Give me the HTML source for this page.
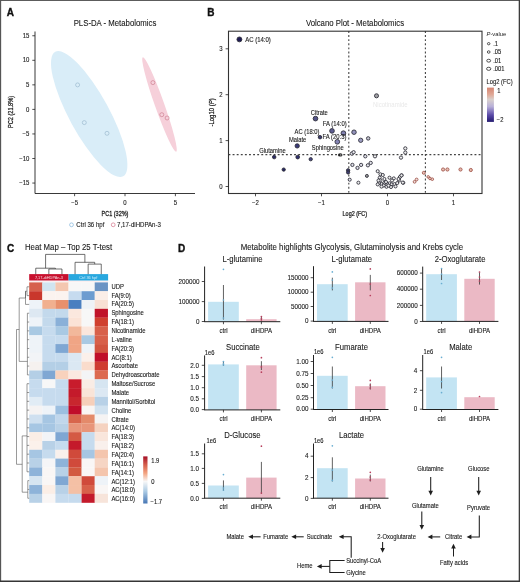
<!DOCTYPE html>
<html><head><meta charset="utf-8"><style>
html,body{margin:0;padding:0;background:#fff;}
svg{display:block;will-change:transform;font-family:"Liberation Sans",sans-serif;}
</style></head><body>
<svg width="520" height="582" viewBox="0 0 520 582">
<rect x="0" y="0" width="520" height="582" fill="#fff"/>
<g id="A">
<text x="6.70" y="15.60" font-size="10" text-anchor="start" fill="#111" stroke="#111" stroke-width="0.35" font-weight="bold">A</text>
<text transform="translate(115.00 25.63) scale(0.8929 1)" font-size="8.74" text-anchor="middle" fill="#1a1a1a" stroke="#1a1a1a" stroke-width="0.1" >PLS-DA - Metabolomics</text>
<ellipse cx="89.2" cy="114.1" rx="70.9" ry="20.0" transform="rotate(61.4 89.2 114.1)" fill="#d9edf8"/>
<ellipse cx="159.5" cy="104.5" rx="50" ry="4.7" transform="rotate(70.5 159.5 104.5)" fill="#f6d0da"/>
<circle cx="77.60" cy="84.90" r="2.00" fill="none" stroke="#98b6cc" stroke-width="0.65"/>
<circle cx="84.30" cy="122.60" r="2.00" fill="none" stroke="#98b6cc" stroke-width="0.65"/>
<circle cx="107.00" cy="133.30" r="2.00" fill="none" stroke="#98b6cc" stroke-width="0.65"/>
<circle cx="152.90" cy="82.60" r="2.00" fill="none" stroke="#cc7a8c" stroke-width="0.65"/>
<circle cx="161.80" cy="114.70" r="2.00" fill="none" stroke="#cc7a8c" stroke-width="0.65"/>
<circle cx="167.10" cy="118.00" r="2.00" fill="none" stroke="#cc7a8c" stroke-width="0.65"/>
<line x1="35.00" y1="31.50" x2="35.00" y2="193.50" stroke="#222" stroke-width="0.9" />
<line x1="35.00" y1="193.50" x2="195.00" y2="193.50" stroke="#222" stroke-width="0.9" />
<line x1="32.30" y1="35.75" x2="35.00" y2="35.75" stroke="#222" stroke-width="0.8" />
<text transform="translate(29.40 37.85) scale(0.8929 1)" font-size="6.72" text-anchor="end" fill="#1a1a1a" stroke="#1a1a1a" stroke-width="0.11" >15</text>
<line x1="32.30" y1="60.30" x2="35.00" y2="60.30" stroke="#222" stroke-width="0.8" />
<text transform="translate(29.40 62.40) scale(0.8929 1)" font-size="6.72" text-anchor="end" fill="#1a1a1a" stroke="#1a1a1a" stroke-width="0.11" >10</text>
<line x1="32.30" y1="84.85" x2="35.00" y2="84.85" stroke="#222" stroke-width="0.8" />
<text transform="translate(29.40 86.95) scale(0.8929 1)" font-size="6.72" text-anchor="end" fill="#1a1a1a" stroke="#1a1a1a" stroke-width="0.11" >5</text>
<line x1="32.30" y1="109.40" x2="35.00" y2="109.40" stroke="#222" stroke-width="0.8" />
<text transform="translate(29.40 111.50) scale(0.8929 1)" font-size="6.72" text-anchor="end" fill="#1a1a1a" stroke="#1a1a1a" stroke-width="0.11" >0</text>
<line x1="32.30" y1="133.95" x2="35.00" y2="133.95" stroke="#222" stroke-width="0.8" />
<text transform="translate(29.40 136.05) scale(0.8929 1)" font-size="6.72" text-anchor="end" fill="#1a1a1a" stroke="#1a1a1a" stroke-width="0.11" >−5</text>
<line x1="32.30" y1="158.50" x2="35.00" y2="158.50" stroke="#222" stroke-width="0.8" />
<text transform="translate(29.40 160.60) scale(0.8929 1)" font-size="6.72" text-anchor="end" fill="#1a1a1a" stroke="#1a1a1a" stroke-width="0.11" >−10</text>
<line x1="32.30" y1="183.05" x2="35.00" y2="183.05" stroke="#222" stroke-width="0.8" />
<text transform="translate(29.40 185.15) scale(0.8929 1)" font-size="6.72" text-anchor="end" fill="#1a1a1a" stroke="#1a1a1a" stroke-width="0.11" >−15</text>
<line x1="74.60" y1="193.50" x2="74.60" y2="196.20" stroke="#222" stroke-width="0.8" />
<text transform="translate(74.60 205.10) scale(0.8929 1)" font-size="6.72" text-anchor="middle" fill="#1a1a1a" stroke="#1a1a1a" stroke-width="0.11" >−5</text>
<line x1="125.00" y1="193.50" x2="125.00" y2="196.20" stroke="#222" stroke-width="0.8" />
<text transform="translate(125.00 205.10) scale(0.8929 1)" font-size="6.72" text-anchor="middle" fill="#1a1a1a" stroke="#1a1a1a" stroke-width="0.11" >0</text>
<line x1="175.40" y1="193.50" x2="175.40" y2="196.20" stroke="#222" stroke-width="0.8" />
<text transform="translate(175.40 205.10) scale(0.8929 1)" font-size="6.72" text-anchor="middle" fill="#1a1a1a" stroke="#1a1a1a" stroke-width="0.11" >5</text>
<text transform="translate(115.00 215.80) scale(0.86 1)" font-size="6.4" text-anchor="middle" fill="#1a1a1a" stroke="#1a1a1a" stroke-width="0.25">PC1 (32%)</text>
<text transform="translate(13.00 112.00) rotate(-90) scale(0.8 1)" font-size="7.0" text-anchor="middle" fill="#1a1a1a" stroke="#1a1a1a" stroke-width="0.25">PC2 (21.8%)</text>
<circle cx="71.50" cy="224.80" r="1.90" fill="none" stroke="#78aed8" stroke-width="0.65"/>
<text transform="translate(76.30 226.73) scale(0.8929 1)" font-size="6.83" text-anchor="start" fill="#1a1a1a" stroke="#1a1a1a" stroke-width="0.11" >Ctrl 36 hpf</text>
<circle cx="113.20" cy="224.80" r="1.90" fill="none" stroke="#d06880" stroke-width="0.65"/>
<text transform="translate(117.00 226.73) scale(0.8929 1)" font-size="6.83" text-anchor="start" fill="#1a1a1a" stroke="#1a1a1a" stroke-width="0.11" >7,17-diHDPAn-3</text>
</g>
<g id="B">
<text x="207.20" y="15.60" font-size="10" text-anchor="start" fill="#111" stroke="#111" stroke-width="0.35" font-weight="bold">B</text>
<text transform="translate(355.00 25.63) scale(0.8929 1)" font-size="8.74" text-anchor="middle" fill="#1a1a1a" stroke="#1a1a1a" stroke-width="0.1" >Volcano Plot - Metabolomics</text>
<line x1="228.50" y1="154.60" x2="482.00" y2="154.60" stroke="#444" stroke-width="1.1" stroke-dasharray="1.9 2.2"/>
<line x1="348.80" y1="31.00" x2="348.80" y2="193.50" stroke="#444" stroke-width="1.1" stroke-dasharray="1.9 2.2"/>
<line x1="425.40" y1="31.00" x2="425.40" y2="193.50" stroke="#444" stroke-width="1.1" stroke-dasharray="1.9 2.2"/>
<rect x="228.5" y="31.2" width="253.5" height="162.3" fill="none" stroke="#333" stroke-width="1.1"/>
<line x1="225.60" y1="186.50" x2="228.50" y2="186.50" stroke="#222" stroke-width="0.8" />
<text transform="translate(222.60 188.60) scale(0.8929 1)" font-size="6.72" text-anchor="end" fill="#1a1a1a" stroke="#1a1a1a" stroke-width="0.11" >0</text>
<line x1="225.60" y1="140.60" x2="228.50" y2="140.60" stroke="#222" stroke-width="0.8" />
<text transform="translate(222.60 142.70) scale(0.8929 1)" font-size="6.72" text-anchor="end" fill="#1a1a1a" stroke="#1a1a1a" stroke-width="0.11" >1</text>
<line x1="225.60" y1="94.70" x2="228.50" y2="94.70" stroke="#222" stroke-width="0.8" />
<text transform="translate(222.60 96.80) scale(0.8929 1)" font-size="6.72" text-anchor="end" fill="#1a1a1a" stroke="#1a1a1a" stroke-width="0.11" >2</text>
<line x1="225.60" y1="48.80" x2="228.50" y2="48.80" stroke="#222" stroke-width="0.8" />
<text transform="translate(222.60 50.90) scale(0.8929 1)" font-size="6.72" text-anchor="end" fill="#1a1a1a" stroke="#1a1a1a" stroke-width="0.11" >3</text>
<line x1="255.50" y1="193.50" x2="255.50" y2="196.30" stroke="#222" stroke-width="0.8" />
<text transform="translate(255.50 205.20) scale(0.8929 1)" font-size="6.72" text-anchor="middle" fill="#1a1a1a" stroke="#1a1a1a" stroke-width="0.11" >−2</text>
<line x1="321.50" y1="193.50" x2="321.50" y2="196.30" stroke="#222" stroke-width="0.8" />
<text transform="translate(321.50 205.20) scale(0.8929 1)" font-size="6.72" text-anchor="middle" fill="#1a1a1a" stroke="#1a1a1a" stroke-width="0.11" >−1</text>
<line x1="387.50" y1="193.50" x2="387.50" y2="196.30" stroke="#222" stroke-width="0.8" />
<text transform="translate(387.50 205.20) scale(0.8929 1)" font-size="6.72" text-anchor="middle" fill="#1a1a1a" stroke="#1a1a1a" stroke-width="0.11" >0</text>
<line x1="453.50" y1="193.50" x2="453.50" y2="196.30" stroke="#222" stroke-width="0.8" />
<text transform="translate(453.50 205.20) scale(0.8929 1)" font-size="6.72" text-anchor="middle" fill="#1a1a1a" stroke="#1a1a1a" stroke-width="0.11" >1</text>
<text transform="translate(354.80 215.80) scale(0.85 1)" font-size="6.4" text-anchor="middle" fill="#1a1a1a" stroke="#1a1a1a" stroke-width="0.25">Log2 (FC)</text>
<text transform="translate(213.70 112.45) rotate(-90) scale(0.853 1)" font-size="7.0" text-anchor="middle" fill="#1a1a1a" stroke="#1a1a1a" stroke-width="0.25">-Log10 (<tspan font-style="italic">P</tspan>)</text>
<circle cx="239.40" cy="39.40" r="2.45" fill="#1e1b55" stroke="#2a2a35" stroke-width="0.85"/>
<circle cx="376.50" cy="95.80" r="2.05" fill="#a0a0a4" stroke="#2a2a35" stroke-width="0.85"/>
<circle cx="315.50" cy="118.60" r="2.35" fill="#545488" stroke="#2a2a35" stroke-width="0.85"/>
<circle cx="332.00" cy="130.90" r="2.35" fill="#5e5e92" stroke="#2a2a35" stroke-width="0.85"/>
<circle cx="343.40" cy="133.20" r="2.35" fill="#8282b0" stroke="#2a2a35" stroke-width="0.85"/>
<circle cx="354.00" cy="132.20" r="2.25" fill="#9494bc" stroke="#2a2a35" stroke-width="0.85"/>
<circle cx="320.00" cy="137.20" r="1.75" fill="#3c3c70" stroke="#2a2a35" stroke-width="0.85"/>
<circle cx="337.30" cy="141.80" r="2.35" fill="#8484b4" stroke="#2a2a35" stroke-width="0.85"/>
<circle cx="360.70" cy="140.30" r="2.15" fill="#9c9cc0" stroke="#2a2a35" stroke-width="0.85"/>
<circle cx="368.20" cy="138.40" r="1.75" fill="#c4c4d0" stroke="#2a2a35" stroke-width="0.85"/>
<circle cx="297.20" cy="145.90" r="2.15" fill="#3a3a78" stroke="#2a2a35" stroke-width="0.85"/>
<circle cx="351.80" cy="153.60" r="1.65" fill="#e8e8ee" stroke="#2a2a35" stroke-width="0.85"/>
<circle cx="353.60" cy="152.20" r="1.65" fill="#e8e8ee" stroke="#2a2a35" stroke-width="0.85"/>
<circle cx="365.30" cy="156.30" r="1.65" fill="#e4e4ec" stroke="#2a2a35" stroke-width="0.85"/>
<circle cx="375.00" cy="156.30" r="1.65" fill="#eeeeee" stroke="#2a2a35" stroke-width="0.85"/>
<circle cx="405.30" cy="148.40" r="1.65" fill="#eeeeee" stroke="#2a2a35" stroke-width="0.85"/>
<circle cx="405.30" cy="152.60" r="1.65" fill="#eeeeee" stroke="#2a2a35" stroke-width="0.85"/>
<circle cx="401.00" cy="157.60" r="1.65" fill="#eeeeee" stroke="#2a2a35" stroke-width="0.85"/>
<circle cx="274.20" cy="157.10" r="1.75" fill="#2a2a66" stroke="#2a2a35" stroke-width="0.85"/>
<circle cx="297.70" cy="157.10" r="1.85" fill="#303070" stroke="#2a2a35" stroke-width="0.85"/>
<circle cx="310.70" cy="159.20" r="1.65" fill="#4a4a84" stroke="#2a2a35" stroke-width="0.85"/>
<circle cx="283.70" cy="169.60" r="1.65" fill="#262660" stroke="#2a2a35" stroke-width="0.85"/>
<circle cx="352.40" cy="164.90" r="1.65" fill="#dcdce6" stroke="#2a2a35" stroke-width="0.85"/>
<circle cx="357.50" cy="167.90" r="1.65" fill="#dcdce6" stroke="#2a2a35" stroke-width="0.85"/>
<circle cx="361.10" cy="164.90" r="1.65" fill="#dcdce6" stroke="#2a2a35" stroke-width="0.85"/>
<circle cx="367.90" cy="165.30" r="1.65" fill="#e4e4ec" stroke="#2a2a35" stroke-width="0.85"/>
<circle cx="370.70" cy="162.90" r="1.65" fill="#e4e4ec" stroke="#2a2a35" stroke-width="0.85"/>
<circle cx="348.10" cy="170.30" r="1.65" fill="#3e3e6e" stroke="#2a2a35" stroke-width="0.85"/>
<circle cx="348.10" cy="172.40" r="1.65" fill="#3e3e6e" stroke="#2a2a35" stroke-width="0.85"/>
<circle cx="366.90" cy="175.90" r="1.50" fill="#9a9a9a" stroke="#2a2a35" stroke-width="0.85"/>
<circle cx="349.70" cy="179.70" r="1.55" fill="#e4e4ec" stroke="#2a2a35" stroke-width="0.85"/>
<circle cx="358.40" cy="182.70" r="1.55" fill="#eeeeee" stroke="#2a2a35" stroke-width="0.85"/>
<circle cx="377.70" cy="171.20" r="1.55" fill="#f0f0f0" stroke="#2a2a35" stroke-width="0.85"/>
<circle cx="380.40" cy="174.30" r="1.55" fill="#f0f0f0" stroke="#2a2a35" stroke-width="0.85"/>
<circle cx="382.80" cy="175.00" r="1.55" fill="#f0f0f0" stroke="#2a2a35" stroke-width="0.85"/>
<circle cx="379.70" cy="177.70" r="1.55" fill="#f0f0f0" stroke="#2a2a35" stroke-width="0.85"/>
<circle cx="380.40" cy="180.40" r="1.55" fill="#f0f0f0" stroke="#2a2a35" stroke-width="0.85"/>
<circle cx="384.40" cy="179.00" r="1.55" fill="#f0f0f0" stroke="#2a2a35" stroke-width="0.85"/>
<circle cx="379.00" cy="183.10" r="1.55" fill="#f0f0f0" stroke="#2a2a35" stroke-width="0.85"/>
<circle cx="381.70" cy="184.10" r="1.55" fill="#f0f0f0" stroke="#2a2a35" stroke-width="0.85"/>
<circle cx="384.40" cy="182.80" r="1.55" fill="#f0f0f0" stroke="#2a2a35" stroke-width="0.85"/>
<circle cx="383.70" cy="185.50" r="1.55" fill="#f0f0f0" stroke="#2a2a35" stroke-width="0.85"/>
<circle cx="389.50" cy="177.70" r="1.55" fill="#f0f0f0" stroke="#2a2a35" stroke-width="0.85"/>
<circle cx="393.80" cy="178.40" r="1.55" fill="#f0f0f0" stroke="#2a2a35" stroke-width="0.85"/>
<circle cx="389.50" cy="183.30" r="1.55" fill="#f0f0f0" stroke="#2a2a35" stroke-width="0.85"/>
<circle cx="391.80" cy="184.40" r="1.55" fill="#f0f0f0" stroke="#2a2a35" stroke-width="0.85"/>
<circle cx="394.50" cy="184.10" r="1.55" fill="#f0f0f0" stroke="#2a2a35" stroke-width="0.85"/>
<circle cx="397.20" cy="183.10" r="1.55" fill="#f0f0f0" stroke="#2a2a35" stroke-width="0.85"/>
<circle cx="399.20" cy="180.40" r="1.55" fill="#f0f0f0" stroke="#2a2a35" stroke-width="0.85"/>
<circle cx="399.90" cy="177.00" r="1.55" fill="#f0f0f0" stroke="#2a2a35" stroke-width="0.85"/>
<circle cx="401.60" cy="175.30" r="1.55" fill="#f0f0f0" stroke="#2a2a35" stroke-width="0.85"/>
<circle cx="403.30" cy="182.80" r="1.55" fill="#f0f0f0" stroke="#2a2a35" stroke-width="0.85"/>
<circle cx="398.50" cy="179.00" r="1.55" fill="#f0f0f0" stroke="#2a2a35" stroke-width="0.85"/>
<circle cx="387.40" cy="184.40" r="1.55" fill="#f0f0f0" stroke="#2a2a35" stroke-width="0.85"/>
<circle cx="377.70" cy="184.40" r="1.55" fill="#f0f0f0" stroke="#2a2a35" stroke-width="0.85"/>
<circle cx="401.50" cy="175.40" r="1.55" fill="#f0f0f0" stroke="#2a2a35" stroke-width="0.85"/>
<circle cx="402.80" cy="182.60" r="1.55" fill="#f0f0f0" stroke="#2a2a35" stroke-width="0.85"/>
<circle cx="386.00" cy="182.00" r="1.55" fill="#f0f0f0" stroke="#2a2a35" stroke-width="0.85"/>
<circle cx="392.00" cy="180.50" r="1.55" fill="#f0f0f0" stroke="#2a2a35" stroke-width="0.85"/>
<circle cx="381.50" cy="186.60" r="1.55" fill="#f0f0f0" stroke="#2a2a35" stroke-width="0.85"/>
<circle cx="386.50" cy="186.80" r="1.55" fill="#f0f0f0" stroke="#2a2a35" stroke-width="0.85"/>
<circle cx="391.00" cy="187.00" r="1.55" fill="#f0f0f0" stroke="#2a2a35" stroke-width="0.85"/>
<circle cx="395.50" cy="186.40" r="1.55" fill="#f0f0f0" stroke="#2a2a35" stroke-width="0.85"/>
<circle cx="388.50" cy="185.60" r="1.55" fill="#f0f0f0" stroke="#2a2a35" stroke-width="0.85"/>
<circle cx="378.50" cy="180.50" r="1.55" fill="#f0f0f0" stroke="#2a2a35" stroke-width="0.85"/>
<ellipse cx="340.2" cy="154.9" rx="2.3" ry="1.7" fill="#222"/><circle cx="340.8" cy="154.9" r="0.6" fill="#ddd"/>
<circle cx="414.60" cy="181.80" r="1.40" fill="#f0e0dc" stroke="#9a4a40" stroke-width="0.8"/>
<circle cx="416.60" cy="179.50" r="1.40" fill="#f0e0dc" stroke="#9a4a40" stroke-width="0.8"/>
<circle cx="423.80" cy="172.80" r="1.50" fill="#e8c4ba" stroke="#9a4a40" stroke-width="0.8"/>
<circle cx="428.20" cy="176.90" r="1.30" fill="#eed4cc" stroke="#9a4a40" stroke-width="0.8"/>
<circle cx="430.00" cy="178.50" r="1.30" fill="#eed4cc" stroke="#9a4a40" stroke-width="0.8"/>
<circle cx="432.30" cy="179.20" r="1.30" fill="#eed4cc" stroke="#9a4a40" stroke-width="0.8"/>
<circle cx="443.10" cy="169.50" r="1.60" fill="#e8c0b4" stroke="#9a4a40" stroke-width="0.8"/>
<circle cx="447.40" cy="169.50" r="1.60" fill="#e8c0b4" stroke="#9a4a40" stroke-width="0.8"/>
<circle cx="460.50" cy="169.50" r="1.60" fill="#e6bcb0" stroke="#9a4a40" stroke-width="0.8"/>
<circle cx="470.80" cy="170.00" r="1.60" fill="#e4b8aa" stroke="#9a4a40" stroke-width="0.8"/>
<text transform="translate(245.20 41.70) scale(0.8929 1)" font-size="6.72" text-anchor="start" fill="#1a1a1a" stroke="#1a1a1a" stroke-width="0.11" >AC (14:0)</text>
<text transform="translate(259.20 153.23) scale(0.8929 1)" font-size="6.50" text-anchor="start" fill="#1a1a1a" stroke="#1a1a1a" stroke-width="0.11" >Glutamine</text>
<text transform="translate(288.90 142.03) scale(0.8929 1)" font-size="6.50" text-anchor="start" fill="#1a1a1a" stroke="#1a1a1a" stroke-width="0.11" >Malate</text>
<text transform="translate(294.60 133.63) scale(0.8929 1)" font-size="6.50" text-anchor="start" fill="#1a1a1a" stroke="#1a1a1a" stroke-width="0.11" >AC (18:0)</text>
<text transform="translate(310.70 114.73) scale(0.8929 1)" font-size="6.50" text-anchor="start" fill="#1a1a1a" stroke="#1a1a1a" stroke-width="0.11" >Citrate</text>
<text transform="translate(322.80 126.36) scale(0.8929 1)" font-size="6.61" text-anchor="start" fill="#1a1a1a" stroke="#1a1a1a" stroke-width="0.11" >FA (14:0)</text>
<text transform="translate(322.50 139.47) scale(0.8929 1)" font-size="6.61" text-anchor="start" fill="#1a1a1a" stroke="#1a1a1a" stroke-width="0.11" >FA (20:3)</text>
<text transform="translate(311.80 150.23) scale(0.8929 1)" font-size="6.50" text-anchor="start" fill="#1a1a1a" stroke="#1a1a1a" stroke-width="0.11" >Sphingosine</text>
<text transform="translate(373.00 107.10) scale(0.8929 1)" font-size="6.72" text-anchor="start" fill="#e9e9e9"  >Nicotinamide</text>
<text x="486.5" y="36.3" font-size="5.8" fill="#222"><tspan font-style="italic">P</tspan>-value</text>
<ellipse cx="488.7" cy="43.7" rx="1.25" ry="1.15" fill="none" stroke="#333" stroke-width="0.85"/>
<text transform="translate(493.20 45.73) scale(0.8929 1)" font-size="6.50" text-anchor="start" fill="#1a1a1a" stroke="#1a1a1a" stroke-width="0.11" >.1</text>
<ellipse cx="488.7" cy="52.0" rx="1.35" ry="1.25" fill="none" stroke="#333" stroke-width="0.85"/>
<text transform="translate(493.20 54.03) scale(0.8929 1)" font-size="6.50" text-anchor="start" fill="#1a1a1a" stroke="#1a1a1a" stroke-width="0.11" >.05</text>
<ellipse cx="488.7" cy="60.7" rx="1.95" ry="1.45" fill="none" stroke="#333" stroke-width="0.85"/>
<text transform="translate(493.20 62.73) scale(0.8929 1)" font-size="6.50" text-anchor="start" fill="#1a1a1a" stroke="#1a1a1a" stroke-width="0.11" >.01</text>
<ellipse cx="488.7" cy="68.8" rx="2.15" ry="1.55" fill="none" stroke="#333" stroke-width="0.85"/>
<text transform="translate(493.20 70.83) scale(0.8929 1)" font-size="6.50" text-anchor="start" fill="#1a1a1a" stroke="#1a1a1a" stroke-width="0.11" >.001</text>
<text transform="translate(486.50 83.83) scale(0.8929 1)" font-size="6.50" text-anchor="start" fill="#1a1a1a" stroke="#1a1a1a" stroke-width="0.11" >Log2 (FC)</text>
<defs><linearGradient id="gfc" x1="0" y1="0" x2="0" y2="1"><stop offset="0" stop-color="#d48470"/><stop offset="0.2" stop-color="#e0a896"/><stop offset="0.35" stop-color="#d9d0cc"/><stop offset="0.55" stop-color="#b8b0d8"/><stop offset="0.8" stop-color="#5b4aa8"/><stop offset="1" stop-color="#231a70"/></linearGradient></defs>
<rect x="487.00" y="87.60" width="6.90" height="34.30" fill="url(#gfc)" />
<text transform="translate(497.30 92.53) scale(0.8929 1)" font-size="6.50" text-anchor="start" fill="#1a1a1a" stroke="#1a1a1a" stroke-width="0.11" >1</text>
<text transform="translate(496.80 122.03) scale(0.8929 1)" font-size="6.50" text-anchor="start" fill="#1a1a1a" stroke="#1a1a1a" stroke-width="0.11" >−2</text>
</g>
<g id="C">
<text x="6.90" y="251.60" font-size="10" text-anchor="start" fill="#111" stroke="#111" stroke-width="0.35" font-weight="bold">C</text>
<text transform="translate(25.00 250.33) scale(0.8929 1)" font-size="8.74" text-anchor="start" fill="#1a1a1a" stroke="#1a1a1a" stroke-width="0.1" >Heat Map – Top 25 T-test</text>
<rect x="29.20" y="274.10" width="39.40" height="6.60" fill="#c8102e" />
<rect x="68.60" y="274.10" width="39.50" height="6.60" fill="#29a8df" />
<rect x="29.20" y="280.70" width="78.90" height="1.70" fill="#fbeff0" />
<text x="48.90" y="278.97" font-size="3.9" text-anchor="middle" fill="#f6d6dc"  >7,17-diHDPAn-3</text>
<text x="88.30" y="278.97" font-size="3.9" text-anchor="middle" fill="#cfeefa"  >Ctrl 36 hpf</text>
<rect x="29.20" y="282.40" width="13.25" height="8.96" fill="#d6604d" />
<rect x="42.30" y="282.40" width="13.25" height="8.96" fill="#d1e5f0" />
<rect x="55.40" y="282.40" width="13.25" height="8.96" fill="#f4c7b0" />
<rect x="68.50" y="282.40" width="13.25" height="8.96" fill="#f7f7f7" />
<rect x="81.60" y="282.40" width="13.25" height="8.96" fill="#f7f7f7" />
<rect x="94.70" y="282.40" width="13.25" height="8.96" fill="#6b94c4" />
<rect x="29.20" y="291.21" width="13.25" height="8.96" fill="#c9372c" />
<rect x="42.30" y="291.21" width="13.25" height="8.96" fill="#fbf3ef" />
<rect x="55.40" y="291.21" width="13.25" height="8.96" fill="#fbf3ef" />
<rect x="68.50" y="291.21" width="13.25" height="8.96" fill="#c6dbef" />
<rect x="81.60" y="291.21" width="13.25" height="8.96" fill="#6d9cd0" />
<rect x="94.70" y="291.21" width="13.25" height="8.96" fill="#fbeee8" />
<rect x="29.20" y="300.02" width="13.25" height="8.96" fill="#eef3f8" />
<rect x="42.30" y="300.02" width="13.25" height="8.96" fill="#f1b08f" />
<rect x="55.40" y="300.02" width="13.25" height="8.96" fill="#e8906c" />
<rect x="68.50" y="300.02" width="13.25" height="8.96" fill="#4a7fc0" />
<rect x="81.60" y="300.02" width="13.25" height="8.96" fill="#eef2f6" />
<rect x="94.70" y="300.02" width="13.25" height="8.96" fill="#f8e0d4" />
<rect x="29.20" y="308.83" width="13.25" height="8.96" fill="#dde8f2" />
<rect x="42.30" y="308.83" width="13.25" height="8.96" fill="#c3d9ec" />
<rect x="55.40" y="308.83" width="13.25" height="8.96" fill="#c3d9ec" />
<rect x="68.50" y="308.83" width="13.25" height="8.96" fill="#fbe8de" />
<rect x="81.60" y="308.83" width="13.25" height="8.96" fill="#f7f7f7" />
<rect x="94.70" y="308.83" width="13.25" height="8.96" fill="#c0142a" />
<rect x="29.20" y="317.64" width="13.25" height="8.96" fill="#eef3f8" />
<rect x="42.30" y="317.64" width="13.25" height="8.96" fill="#c3d9ec" />
<rect x="55.40" y="317.64" width="13.25" height="8.96" fill="#8ab0d8" />
<rect x="68.50" y="317.64" width="13.25" height="8.96" fill="#fbe3d6" />
<rect x="81.60" y="317.64" width="13.25" height="8.96" fill="#f7f7f7" />
<rect x="94.70" y="317.64" width="13.25" height="8.96" fill="#d0402f" />
<rect x="29.20" y="326.45" width="13.25" height="8.96" fill="#a9c9e3" />
<rect x="42.30" y="326.45" width="13.25" height="8.96" fill="#c6dbee" />
<rect x="55.40" y="326.45" width="13.25" height="8.96" fill="#a9c9e3" />
<rect x="68.50" y="326.45" width="13.25" height="8.96" fill="#f2b89b" />
<rect x="81.60" y="326.45" width="13.25" height="8.96" fill="#fbe6dc" />
<rect x="94.70" y="326.45" width="13.25" height="8.96" fill="#d8604a" />
<rect x="29.20" y="335.26" width="13.25" height="8.96" fill="#eef3f8" />
<rect x="42.30" y="335.26" width="13.25" height="8.96" fill="#c6dbee" />
<rect x="55.40" y="335.26" width="13.25" height="8.96" fill="#c6dbee" />
<rect x="68.50" y="335.26" width="13.25" height="8.96" fill="#f0a585" />
<rect x="81.60" y="335.26" width="13.25" height="8.96" fill="#a9c9e3" />
<rect x="94.70" y="335.26" width="13.25" height="8.96" fill="#d8604a" />
<rect x="29.20" y="344.07" width="13.25" height="8.96" fill="#eef3f8" />
<rect x="42.30" y="344.07" width="13.25" height="8.96" fill="#c6dbee" />
<rect x="55.40" y="344.07" width="13.25" height="8.96" fill="#7fa7d3" />
<rect x="68.50" y="344.07" width="13.25" height="8.96" fill="#f0a585" />
<rect x="81.60" y="344.07" width="13.25" height="8.96" fill="#eef3f8" />
<rect x="94.70" y="344.07" width="13.25" height="8.96" fill="#d25540" />
<rect x="29.20" y="352.88" width="13.25" height="8.96" fill="#f2f4f7" />
<rect x="42.30" y="352.88" width="13.25" height="8.96" fill="#c6dbee" />
<rect x="55.40" y="352.88" width="13.25" height="8.96" fill="#c6dbee" />
<rect x="68.50" y="352.88" width="13.25" height="8.96" fill="#dbe8f3" />
<rect x="81.60" y="352.88" width="13.25" height="8.96" fill="#fbf0ea" />
<rect x="94.70" y="352.88" width="13.25" height="8.96" fill="#c0102a" />
<rect x="29.20" y="361.69" width="13.25" height="8.96" fill="#f5f1ef" />
<rect x="42.30" y="361.69" width="13.25" height="8.96" fill="#b4cfe6" />
<rect x="55.40" y="361.69" width="13.25" height="8.96" fill="#b4cfe6" />
<rect x="68.50" y="361.69" width="13.25" height="8.96" fill="#dbe8f3" />
<rect x="81.60" y="361.69" width="13.25" height="8.96" fill="#fadccc" />
<rect x="94.70" y="361.69" width="13.25" height="8.96" fill="#cf3c30" />
<rect x="29.20" y="370.50" width="13.25" height="8.96" fill="#b4cfe6" />
<rect x="42.30" y="370.50" width="13.25" height="8.96" fill="#7fa7d3" />
<rect x="55.40" y="370.50" width="13.25" height="8.96" fill="#f8d2bd" />
<rect x="68.50" y="370.50" width="13.25" height="8.96" fill="#fbe9e0" />
<rect x="81.60" y="370.50" width="13.25" height="8.96" fill="#f3f4f6" />
<rect x="94.70" y="370.50" width="13.25" height="8.96" fill="#dc6a50" />
<rect x="29.20" y="379.31" width="13.25" height="8.96" fill="#c6dbee" />
<rect x="42.30" y="379.31" width="13.25" height="8.96" fill="#f7f7f7" />
<rect x="55.40" y="379.31" width="13.25" height="8.96" fill="#c6dbee" />
<rect x="68.50" y="379.31" width="13.25" height="8.96" fill="#c81c2c" />
<rect x="81.60" y="379.31" width="13.25" height="8.96" fill="#f9ece5" />
<rect x="94.70" y="379.31" width="13.25" height="8.96" fill="#d6e5f1" />
<rect x="29.20" y="388.12" width="13.25" height="8.96" fill="#c6dbee" />
<rect x="42.30" y="388.12" width="13.25" height="8.96" fill="#c6dbee" />
<rect x="55.40" y="388.12" width="13.25" height="8.96" fill="#c6dbee" />
<rect x="68.50" y="388.12" width="13.25" height="8.96" fill="#c41a2b" />
<rect x="81.60" y="388.12" width="13.25" height="8.96" fill="#f9e4d8" />
<rect x="94.70" y="388.12" width="13.25" height="8.96" fill="#dce8f3" />
<rect x="29.20" y="396.93" width="13.25" height="8.96" fill="#e1ecf5" />
<rect x="42.30" y="396.93" width="13.25" height="8.96" fill="#c6dbee" />
<rect x="55.40" y="396.93" width="13.25" height="8.96" fill="#c6dbee" />
<rect x="68.50" y="396.93" width="13.25" height="8.96" fill="#c8262e" />
<rect x="81.60" y="396.93" width="13.25" height="8.96" fill="#f6cfba" />
<rect x="94.70" y="396.93" width="13.25" height="8.96" fill="#b8d1e7" />
<rect x="29.20" y="405.74" width="13.25" height="8.96" fill="#f5f3f3" />
<rect x="42.30" y="405.74" width="13.25" height="8.96" fill="#eef3f8" />
<rect x="55.40" y="405.74" width="13.25" height="8.96" fill="#9cbfe0" />
<rect x="68.50" y="405.74" width="13.25" height="8.96" fill="#c00d2a" />
<rect x="81.60" y="405.74" width="13.25" height="8.96" fill="#f9f5f3" />
<rect x="94.70" y="405.74" width="13.25" height="8.96" fill="#d1e2f0" />
<rect x="29.20" y="414.55" width="13.25" height="8.96" fill="#cfe0f0" />
<rect x="42.30" y="414.55" width="13.25" height="8.96" fill="#a6c6e3" />
<rect x="55.40" y="414.55" width="13.25" height="8.96" fill="#c1d7ec" />
<rect x="68.50" y="414.55" width="13.25" height="8.96" fill="#d8664c" />
<rect x="81.60" y="414.55" width="13.25" height="8.96" fill="#e48a6a" />
<rect x="94.70" y="414.55" width="13.25" height="8.96" fill="#f5f3f3" />
<rect x="29.20" y="423.36" width="13.25" height="8.96" fill="#a6c6e3" />
<rect x="42.30" y="423.36" width="13.25" height="8.96" fill="#a6c6e3" />
<rect x="55.40" y="423.36" width="13.25" height="8.96" fill="#b8d1e7" />
<rect x="68.50" y="423.36" width="13.25" height="8.96" fill="#e8957a" />
<rect x="81.60" y="423.36" width="13.25" height="8.96" fill="#e8957a" />
<rect x="94.70" y="423.36" width="13.25" height="8.96" fill="#f5d2c0" />
<rect x="29.20" y="432.17" width="13.25" height="8.96" fill="#fbeee6" />
<rect x="42.30" y="432.17" width="13.25" height="8.96" fill="#f2f4f7" />
<rect x="55.40" y="432.17" width="13.25" height="8.96" fill="#7fa7d3" />
<rect x="68.50" y="432.17" width="13.25" height="8.96" fill="#d45a44" />
<rect x="81.60" y="432.17" width="13.25" height="8.96" fill="#c6dbee" />
<rect x="94.70" y="432.17" width="13.25" height="8.96" fill="#f9e6dc" />
<rect x="29.20" y="440.98" width="13.25" height="8.96" fill="#fbf1eb" />
<rect x="42.30" y="440.98" width="13.25" height="8.96" fill="#b8d1e7" />
<rect x="55.40" y="440.98" width="13.25" height="8.96" fill="#c6dbee" />
<rect x="68.50" y="440.98" width="13.25" height="8.96" fill="#c41a2b" />
<rect x="81.60" y="440.98" width="13.25" height="8.96" fill="#c6dbee" />
<rect x="94.70" y="440.98" width="13.25" height="8.96" fill="#f9f0ec" />
<rect x="29.20" y="449.79" width="13.25" height="8.96" fill="#a6c6e3" />
<rect x="42.30" y="449.79" width="13.25" height="8.96" fill="#c6dbee" />
<rect x="55.40" y="449.79" width="13.25" height="8.96" fill="#f9f0ec" />
<rect x="68.50" y="449.79" width="13.25" height="8.96" fill="#d04a3b" />
<rect x="81.60" y="449.79" width="13.25" height="8.96" fill="#a6c6e3" />
<rect x="94.70" y="449.79" width="13.25" height="8.96" fill="#f4c5ad" />
<rect x="29.20" y="458.60" width="13.25" height="8.96" fill="#b8d1e7" />
<rect x="42.30" y="458.60" width="13.25" height="8.96" fill="#f5f5f7" />
<rect x="55.40" y="458.60" width="13.25" height="8.96" fill="#8eb3d9" />
<rect x="68.50" y="458.60" width="13.25" height="8.96" fill="#d04a3b" />
<rect x="81.60" y="458.60" width="13.25" height="8.96" fill="#f9f6f5" />
<rect x="94.70" y="458.60" width="13.25" height="8.96" fill="#f6d5c4" />
<rect x="29.20" y="467.41" width="13.25" height="8.96" fill="#8eb3d9" />
<rect x="42.30" y="467.41" width="13.25" height="8.96" fill="#f9f6f5" />
<rect x="55.40" y="467.41" width="13.25" height="8.96" fill="#b8d1e7" />
<rect x="68.50" y="467.41" width="13.25" height="8.96" fill="#d25a40" />
<rect x="81.60" y="467.41" width="13.25" height="8.96" fill="#f9f6f5" />
<rect x="94.70" y="467.41" width="13.25" height="8.96" fill="#f4c5ad" />
<rect x="29.20" y="476.22" width="13.25" height="8.96" fill="#d6e5f1" />
<rect x="42.30" y="476.22" width="13.25" height="8.96" fill="#f9f6f5" />
<rect x="55.40" y="476.22" width="13.25" height="8.96" fill="#7fa7d3" />
<rect x="68.50" y="476.22" width="13.25" height="8.96" fill="#f4c0a5" />
<rect x="81.60" y="476.22" width="13.25" height="8.96" fill="#d04a3b" />
<rect x="94.70" y="476.22" width="13.25" height="8.96" fill="#eef3f8" />
<rect x="29.20" y="485.03" width="13.25" height="8.96" fill="#8eb3d9" />
<rect x="42.30" y="485.03" width="13.25" height="8.96" fill="#fbeee6" />
<rect x="55.40" y="485.03" width="13.25" height="8.96" fill="#b8d1e7" />
<rect x="68.50" y="485.03" width="13.25" height="8.96" fill="#f4c0a5" />
<rect x="81.60" y="485.03" width="13.25" height="8.96" fill="#d8604a" />
<rect x="94.70" y="485.03" width="13.25" height="8.96" fill="#f9f6f5" />
<rect x="29.20" y="493.84" width="13.25" height="8.96" fill="#b8d1e7" />
<rect x="42.30" y="493.84" width="13.25" height="8.96" fill="#f9f6f5" />
<rect x="55.40" y="493.84" width="13.25" height="8.96" fill="#c6dbee" />
<rect x="68.50" y="493.84" width="13.25" height="8.96" fill="#c6dbee" />
<rect x="81.60" y="493.84" width="13.25" height="8.96" fill="#c41a2b" />
<rect x="94.70" y="493.84" width="13.25" height="8.96" fill="#f7e4da" />
<text transform="translate(111.40 288.76) scale(0.8929 1)" font-size="6.61" text-anchor="start" fill="#1a1a1a" stroke="#1a1a1a" stroke-width="0.11" >UDP</text>
<text transform="translate(111.40 297.62) scale(0.8929 1)" font-size="6.61" text-anchor="start" fill="#1a1a1a" stroke="#1a1a1a" stroke-width="0.11" >FA(9:0)</text>
<text transform="translate(111.40 306.47) scale(0.8929 1)" font-size="6.61" text-anchor="start" fill="#1a1a1a" stroke="#1a1a1a" stroke-width="0.11" >FA(20:5)</text>
<text transform="translate(111.40 315.33) scale(0.8929 1)" font-size="6.61" text-anchor="start" fill="#1a1a1a" stroke="#1a1a1a" stroke-width="0.11" >Sphingosine</text>
<text transform="translate(111.40 324.18) scale(0.8929 1)" font-size="6.61" text-anchor="start" fill="#1a1a1a" stroke="#1a1a1a" stroke-width="0.11" >FA(18:1)</text>
<text transform="translate(111.40 333.03) scale(0.8929 1)" font-size="6.61" text-anchor="start" fill="#1a1a1a" stroke="#1a1a1a" stroke-width="0.11" >Nicotinamide</text>
<text transform="translate(111.40 341.89) scale(0.8929 1)" font-size="6.61" text-anchor="start" fill="#1a1a1a" stroke="#1a1a1a" stroke-width="0.11" >L-valine</text>
<text transform="translate(111.40 350.74) scale(0.8929 1)" font-size="6.61" text-anchor="start" fill="#1a1a1a" stroke="#1a1a1a" stroke-width="0.11" >FA(20:3)</text>
<text transform="translate(111.40 359.60) scale(0.8929 1)" font-size="6.61" text-anchor="start" fill="#1a1a1a" stroke="#1a1a1a" stroke-width="0.11" >AC(8:1)</text>
<text transform="translate(111.40 368.45) scale(0.8929 1)" font-size="6.61" text-anchor="start" fill="#1a1a1a" stroke="#1a1a1a" stroke-width="0.11" >Ascorbate</text>
<text transform="translate(111.40 377.31) scale(0.8929 1)" font-size="6.61" text-anchor="start" fill="#1a1a1a" stroke="#1a1a1a" stroke-width="0.11" >Dehydroascorbate</text>
<text transform="translate(111.40 386.16) scale(0.8929 1)" font-size="6.61" text-anchor="start" fill="#1a1a1a" stroke="#1a1a1a" stroke-width="0.11" >Maltose/Sucrose</text>
<text transform="translate(111.40 395.01) scale(0.8929 1)" font-size="6.61" text-anchor="start" fill="#1a1a1a" stroke="#1a1a1a" stroke-width="0.11" >Malate</text>
<text transform="translate(111.40 403.87) scale(0.8929 1)" font-size="6.61" text-anchor="start" fill="#1a1a1a" stroke="#1a1a1a" stroke-width="0.11" >Mannitol/Sorbitol</text>
<text transform="translate(111.40 412.72) scale(0.8929 1)" font-size="6.61" text-anchor="start" fill="#1a1a1a" stroke="#1a1a1a" stroke-width="0.11" >Choline</text>
<text transform="translate(111.40 421.57) scale(0.8929 1)" font-size="6.61" text-anchor="start" fill="#1a1a1a" stroke="#1a1a1a" stroke-width="0.11" >Citrate</text>
<text transform="translate(111.40 430.43) scale(0.8929 1)" font-size="6.61" text-anchor="start" fill="#1a1a1a" stroke="#1a1a1a" stroke-width="0.11" >AC(14:0)</text>
<text transform="translate(111.40 439.28) scale(0.8929 1)" font-size="6.61" text-anchor="start" fill="#1a1a1a" stroke="#1a1a1a" stroke-width="0.11" >FA(18:3)</text>
<text transform="translate(111.40 448.14) scale(0.8929 1)" font-size="6.61" text-anchor="start" fill="#1a1a1a" stroke="#1a1a1a" stroke-width="0.11" >FA(18:2)</text>
<text transform="translate(111.40 456.99) scale(0.8929 1)" font-size="6.61" text-anchor="start" fill="#1a1a1a" stroke="#1a1a1a" stroke-width="0.11" >FA(20:4)</text>
<text transform="translate(111.40 465.84) scale(0.8929 1)" font-size="6.61" text-anchor="start" fill="#1a1a1a" stroke="#1a1a1a" stroke-width="0.11" >FA(16:1)</text>
<text transform="translate(111.40 474.70) scale(0.8929 1)" font-size="6.61" text-anchor="start" fill="#1a1a1a" stroke="#1a1a1a" stroke-width="0.11" >FA(14:1)</text>
<text transform="translate(111.40 483.55) scale(0.8929 1)" font-size="6.61" text-anchor="start" fill="#1a1a1a" stroke="#1a1a1a" stroke-width="0.11" >AC(12:1)</text>
<text transform="translate(111.40 492.41) scale(0.8929 1)" font-size="6.61" text-anchor="start" fill="#1a1a1a" stroke="#1a1a1a" stroke-width="0.11" >AC(18:0)</text>
<text transform="translate(111.40 501.26) scale(0.8929 1)" font-size="6.61" text-anchor="start" fill="#1a1a1a" stroke="#1a1a1a" stroke-width="0.11" >AC(16:0)</text>
<polyline points="48.85,274.20 48.85,269.00 61.95,269.00 61.95,274.20" fill="none" stroke="#333" stroke-width="0.7"/>
<polyline points="35.75,274.20 35.75,268.20 55.40,268.20 55.40,269.00" fill="none" stroke="#333" stroke-width="0.7"/>
<polyline points="88.15,274.20 88.15,264.10 101.25,264.10 101.25,274.20" fill="none" stroke="#333" stroke-width="0.7"/>
<polyline points="75.05,274.20 75.05,262.30 94.70,262.30 94.70,264.10" fill="none" stroke="#333" stroke-width="0.7"/>
<polyline points="45.58,268.20 45.58,254.40 84.88,254.40 84.88,262.30" fill="none" stroke="#333" stroke-width="0.7"/>
<polyline points="29.20,286.80 27.00,286.80 27.00,295.61 29.20,295.61" fill="none" stroke="#555" stroke-width="0.6"/>
<polyline points="27.00,291.21 25.50,291.21 25.50,304.42 29.20,304.42" fill="none" stroke="#555" stroke-width="0.6"/>
<polyline points="25.50,291.21 25.50,298.00" fill="none" stroke="#555" stroke-width="0.6"/>
<polyline points="27.40,313.23 29.20,313.23" fill="none" stroke="#555" stroke-width="0.6"/>
<polyline points="27.40,322.04 29.20,322.04" fill="none" stroke="#555" stroke-width="0.6"/>
<polyline points="27.40,330.85 29.20,330.85" fill="none" stroke="#555" stroke-width="0.6"/>
<polyline points="27.40,339.66 29.20,339.66" fill="none" stroke="#555" stroke-width="0.6"/>
<polyline points="27.40,348.47 29.20,348.47" fill="none" stroke="#555" stroke-width="0.6"/>
<polyline points="27.40,357.28 29.20,357.28" fill="none" stroke="#555" stroke-width="0.6"/>
<polyline points="27.40,366.09 29.20,366.09" fill="none" stroke="#555" stroke-width="0.6"/>
<polyline points="27.40,374.90 29.20,374.90" fill="none" stroke="#555" stroke-width="0.6"/>
<polyline points="27.40,313.23 27.40,374.90" fill="none" stroke="#555" stroke-width="0.6"/>
<polyline points="27.40,361.40 19.20,361.40" fill="none" stroke="#555" stroke-width="0.6"/>
<polyline points="25.50,298.00 19.20,298.00 19.20,361.40" fill="none" stroke="#555" stroke-width="0.6"/>
<polyline points="27.00,383.71 29.20,383.71" fill="none" stroke="#555" stroke-width="0.6"/>
<polyline points="27.00,392.52 29.20,392.52" fill="none" stroke="#555" stroke-width="0.6"/>
<polyline points="27.00,401.33 29.20,401.33" fill="none" stroke="#555" stroke-width="0.6"/>
<polyline points="27.00,410.14 29.20,410.14" fill="none" stroke="#555" stroke-width="0.6"/>
<polyline points="27.00,418.95 29.20,418.95" fill="none" stroke="#555" stroke-width="0.6"/>
<polyline points="27.00,427.76 29.20,427.76" fill="none" stroke="#555" stroke-width="0.6"/>
<polyline points="27.00,436.57 29.20,436.57" fill="none" stroke="#555" stroke-width="0.6"/>
<polyline points="27.00,445.38 29.20,445.38" fill="none" stroke="#555" stroke-width="0.6"/>
<polyline points="27.00,454.19 29.20,454.19" fill="none" stroke="#555" stroke-width="0.6"/>
<polyline points="27.00,463.00 29.20,463.00" fill="none" stroke="#555" stroke-width="0.6"/>
<polyline points="27.00,471.81 29.20,471.81" fill="none" stroke="#555" stroke-width="0.6"/>
<polyline points="27.00,383.71 27.00,471.81" fill="none" stroke="#555" stroke-width="0.6"/>
<polyline points="27.80,480.62 29.20,480.62" fill="none" stroke="#555" stroke-width="0.6"/>
<polyline points="27.80,489.44 29.20,489.44" fill="none" stroke="#555" stroke-width="0.6"/>
<polyline points="27.80,498.25 29.20,498.25" fill="none" stroke="#555" stroke-width="0.6"/>
<polyline points="27.80,480.62 27.80,498.25" fill="none" stroke="#555" stroke-width="0.6"/>
<polyline points="27.00,435.90 22.20,435.90 22.20,492.20 27.80,492.20" fill="none" stroke="#555" stroke-width="0.6"/>
<polyline points="19.20,329.50 16.50,329.50 16.50,464.30 22.20,464.30" fill="none" stroke="#555" stroke-width="0.6"/>
<defs><linearGradient id="ghm" x1="0" y1="0" x2="0" y2="1"><stop offset="0" stop-color="#a50f26"/><stop offset="0.18" stop-color="#d6604d"/><stop offset="0.36" stop-color="#f4a582"/><stop offset="0.533" stop-color="#f7f7f7"/><stop offset="0.75" stop-color="#a9c9e3"/><stop offset="1" stop-color="#4575b4"/></linearGradient></defs>
<rect x="143.20" y="456.40" width="4.30" height="47.10" fill="url(#ghm)" />
<text transform="translate(151.20 463.13) scale(0.8929 1)" font-size="6.50" text-anchor="start" fill="#1a1a1a" stroke="#1a1a1a" stroke-width="0.11" >1.9</text>
<text transform="translate(151.20 483.53) scale(0.8929 1)" font-size="6.50" text-anchor="start" fill="#1a1a1a" stroke="#1a1a1a" stroke-width="0.11" >0</text>
<text transform="translate(150.60 503.63) scale(0.8929 1)" font-size="6.50" text-anchor="start" fill="#1a1a1a" stroke="#1a1a1a" stroke-width="0.11" >−1.7</text>
</g>
<g id="D">
<text x="178.10" y="251.60" font-size="10" text-anchor="start" fill="#111" stroke="#111" stroke-width="0.35" font-weight="bold">D</text>
<text transform="translate(351.90 249.65) scale(0.8929 1)" font-size="8.79" text-anchor="middle" fill="#1a1a1a" stroke="#1a1a1a" stroke-width="0.1" >Metabolite highlights Glycolysis, Glutaminolysis and Krebs cycle</text>
<text transform="translate(242.50 262.00) scale(0.8929 1)" font-size="8.62" text-anchor="middle" fill="#1a1a1a" stroke="#1a1a1a" stroke-width="0.1" >L-glutamine</text>
<rect x="208.10" y="301.80" width="30.70" height="19.90" fill="#c3e4f3" />
<rect x="246.20" y="319.20" width="30.40" height="2.50" fill="#ebb9c5" />
<line x1="223.45" y1="285.00" x2="223.45" y2="319.60" stroke="#3a3a3a" stroke-width="0.8" />
<line x1="261.40" y1="316.50" x2="261.40" y2="320.00" stroke="#3a3a3a" stroke-width="0.8" />
<circle cx="223.45" cy="269.30" r="0.85" fill="#6aaed2" stroke="none" stroke-width="0"/>
<circle cx="223.45" cy="300.00" r="0.85" fill="#6aaed2" stroke="none" stroke-width="0"/>
<circle cx="223.45" cy="318.00" r="0.85" fill="#6aaed2" stroke="none" stroke-width="0"/>
<circle cx="261.40" cy="316.50" r="0.85" fill="#b8405e" stroke="none" stroke-width="0"/>
<circle cx="261.40" cy="318.50" r="0.85" fill="#b8405e" stroke="none" stroke-width="0"/>
<circle cx="261.40" cy="320.00" r="0.85" fill="#b8405e" stroke="none" stroke-width="0"/>
<line x1="204.60" y1="266.50" x2="204.60" y2="322.10" stroke="#222" stroke-width="1.0" />
<line x1="204.60" y1="321.70" x2="280.30" y2="321.70" stroke="#222" stroke-width="1.0" />
<line x1="201.80" y1="321.50" x2="204.60" y2="321.50" stroke="#222" stroke-width="0.8" />
<text transform="translate(199.60 323.70) scale(0.8929 1)" font-size="7.06" text-anchor="end" fill="#1a1a1a" stroke="#1a1a1a" stroke-width="0.11" >0</text>
<line x1="201.80" y1="301.60" x2="204.60" y2="301.60" stroke="#222" stroke-width="0.8" />
<text transform="translate(199.60 303.81) scale(0.8929 1)" font-size="7.06" text-anchor="end" fill="#1a1a1a" stroke="#1a1a1a" stroke-width="0.11" >100000</text>
<line x1="201.80" y1="281.50" x2="204.60" y2="281.50" stroke="#222" stroke-width="0.8" />
<text transform="translate(199.60 283.70) scale(0.8929 1)" font-size="7.06" text-anchor="end" fill="#1a1a1a" stroke="#1a1a1a" stroke-width="0.11" >200000</text>
<line x1="223.45" y1="321.70" x2="223.45" y2="324.20" stroke="#222" stroke-width="0.8" />
<line x1="261.40" y1="321.70" x2="261.40" y2="324.20" stroke="#222" stroke-width="0.8" />
<text transform="translate(223.45 332.94) scale(0.8929 1)" font-size="6.83" text-anchor="middle" fill="#1a1a1a" stroke="#1a1a1a" stroke-width="0.11" >ctrl</text>
<text transform="translate(261.40 332.94) scale(0.8929 1)" font-size="6.83" text-anchor="middle" fill="#1a1a1a" stroke="#1a1a1a" stroke-width="0.11" >diHDPA</text>
<text transform="translate(351.80 262.00) scale(0.8929 1)" font-size="8.62" text-anchor="middle" fill="#1a1a1a" stroke="#1a1a1a" stroke-width="0.1" >L-glutamate</text>
<rect x="317.00" y="284.20" width="30.70" height="37.20" fill="#c3e4f3" />
<rect x="355.10" y="282.30" width="30.40" height="39.10" fill="#ebb9c5" />
<line x1="332.35" y1="277.70" x2="332.35" y2="290.40" stroke="#3a3a3a" stroke-width="0.8" />
<line x1="370.30" y1="274.90" x2="370.30" y2="290.40" stroke="#3a3a3a" stroke-width="0.8" />
<circle cx="332.35" cy="271.90" r="0.85" fill="#6aaed2" stroke="none" stroke-width="0"/>
<circle cx="332.35" cy="280.00" r="0.85" fill="#6aaed2" stroke="none" stroke-width="0"/>
<circle cx="332.35" cy="288.00" r="0.85" fill="#6aaed2" stroke="none" stroke-width="0"/>
<circle cx="370.30" cy="268.90" r="0.85" fill="#b8405e" stroke="none" stroke-width="0"/>
<circle cx="370.30" cy="295.50" r="0.85" fill="#b8405e" stroke="none" stroke-width="0"/>
<circle cx="370.30" cy="284.00" r="0.85" fill="#b8405e" stroke="none" stroke-width="0"/>
<line x1="313.50" y1="266.20" x2="313.50" y2="321.80" stroke="#222" stroke-width="1.0" />
<line x1="313.50" y1="321.40" x2="388.50" y2="321.40" stroke="#222" stroke-width="1.0" />
<line x1="310.70" y1="321.10" x2="313.50" y2="321.10" stroke="#222" stroke-width="0.8" />
<text transform="translate(308.50 323.31) scale(0.8929 1)" font-size="7.06" text-anchor="end" fill="#1a1a1a" stroke="#1a1a1a" stroke-width="0.11" >0</text>
<line x1="310.70" y1="306.50" x2="313.50" y2="306.50" stroke="#222" stroke-width="0.8" />
<text transform="translate(308.50 308.70) scale(0.8929 1)" font-size="7.06" text-anchor="end" fill="#1a1a1a" stroke="#1a1a1a" stroke-width="0.11" >50000</text>
<line x1="310.70" y1="292.20" x2="313.50" y2="292.20" stroke="#222" stroke-width="0.8" />
<text transform="translate(308.50 294.40) scale(0.8929 1)" font-size="7.06" text-anchor="end" fill="#1a1a1a" stroke="#1a1a1a" stroke-width="0.11" >100000</text>
<line x1="310.70" y1="277.70" x2="313.50" y2="277.70" stroke="#222" stroke-width="0.8" />
<text transform="translate(308.50 279.90) scale(0.8929 1)" font-size="7.06" text-anchor="end" fill="#1a1a1a" stroke="#1a1a1a" stroke-width="0.11" >150000</text>
<line x1="332.35" y1="321.40" x2="332.35" y2="323.90" stroke="#222" stroke-width="0.8" />
<line x1="370.30" y1="321.40" x2="370.30" y2="323.90" stroke="#222" stroke-width="0.8" />
<text transform="translate(332.35 332.94) scale(0.8929 1)" font-size="6.83" text-anchor="middle" fill="#1a1a1a" stroke="#1a1a1a" stroke-width="0.11" >ctrl</text>
<text transform="translate(370.30 332.94) scale(0.8929 1)" font-size="6.83" text-anchor="middle" fill="#1a1a1a" stroke="#1a1a1a" stroke-width="0.11" >diHDPA</text>
<text transform="translate(460.10 262.39) scale(0.8929 1)" font-size="8.62" text-anchor="middle" fill="#1a1a1a" stroke="#1a1a1a" stroke-width="0.1" >2-Oxoglutarate</text>
<rect x="426.20" y="274.20" width="30.70" height="47.20" fill="#c3e4f3" />
<rect x="464.30" y="278.80" width="30.40" height="42.60" fill="#ebb9c5" />
<line x1="441.55" y1="268.50" x2="441.55" y2="280.00" stroke="#3a3a3a" stroke-width="0.8" />
<line x1="479.50" y1="272.40" x2="479.50" y2="284.60" stroke="#3a3a3a" stroke-width="0.8" />
<circle cx="441.55" cy="268.50" r="0.85" fill="#6aaed2" stroke="none" stroke-width="0"/>
<circle cx="441.55" cy="283.50" r="0.85" fill="#6aaed2" stroke="none" stroke-width="0"/>
<circle cx="441.55" cy="274.00" r="0.85" fill="#6aaed2" stroke="none" stroke-width="0"/>
<circle cx="479.50" cy="272.00" r="0.85" fill="#b8405e" stroke="none" stroke-width="0"/>
<circle cx="479.50" cy="277.00" r="0.85" fill="#b8405e" stroke="none" stroke-width="0"/>
<circle cx="479.50" cy="281.00" r="0.85" fill="#b8405e" stroke="none" stroke-width="0"/>
<line x1="422.70" y1="266.60" x2="422.70" y2="321.80" stroke="#222" stroke-width="1.0" />
<line x1="422.70" y1="321.40" x2="498.40" y2="321.40" stroke="#222" stroke-width="1.0" />
<line x1="419.90" y1="321.50" x2="422.70" y2="321.50" stroke="#222" stroke-width="0.8" />
<text transform="translate(417.80 323.70) scale(0.8929 1)" font-size="7.06" text-anchor="end" fill="#1a1a1a" stroke="#1a1a1a" stroke-width="0.11" >0</text>
<line x1="419.90" y1="305.40" x2="422.70" y2="305.40" stroke="#222" stroke-width="0.8" />
<text transform="translate(417.80 307.60) scale(0.8929 1)" font-size="7.06" text-anchor="end" fill="#1a1a1a" stroke="#1a1a1a" stroke-width="0.11" >200000</text>
<line x1="419.90" y1="289.20" x2="422.70" y2="289.20" stroke="#222" stroke-width="0.8" />
<text transform="translate(417.80 291.40) scale(0.8929 1)" font-size="7.06" text-anchor="end" fill="#1a1a1a" stroke="#1a1a1a" stroke-width="0.11" >400000</text>
<line x1="419.90" y1="273.10" x2="422.70" y2="273.10" stroke="#222" stroke-width="0.8" />
<text transform="translate(417.80 275.31) scale(0.8929 1)" font-size="7.06" text-anchor="end" fill="#1a1a1a" stroke="#1a1a1a" stroke-width="0.11" >600000</text>
<line x1="441.55" y1="321.40" x2="441.55" y2="323.90" stroke="#222" stroke-width="0.8" />
<line x1="479.50" y1="321.40" x2="479.50" y2="323.90" stroke="#222" stroke-width="0.8" />
<text transform="translate(441.55 332.94) scale(0.8929 1)" font-size="6.83" text-anchor="middle" fill="#1a1a1a" stroke="#1a1a1a" stroke-width="0.11" >ctrl</text>
<text transform="translate(479.50 332.94) scale(0.8929 1)" font-size="6.83" text-anchor="middle" fill="#1a1a1a" stroke="#1a1a1a" stroke-width="0.11" >diHDPA</text>
<text transform="translate(242.90 349.59) scale(0.8929 1)" font-size="8.62" text-anchor="middle" fill="#1a1a1a" stroke="#1a1a1a" stroke-width="0.1" >Succinate</text>
<text transform="translate(204.70 354.53) scale(0.8929 1)" font-size="6.50" text-anchor="start" fill="#1a1a1a" stroke="#1a1a1a" stroke-width="0.11" >1e6</text>
<rect x="208.10" y="364.40" width="30.70" height="45.50" fill="#c3e4f3" />
<rect x="246.20" y="365.30" width="30.40" height="44.60" fill="#ebb9c5" />
<line x1="223.45" y1="361.20" x2="223.45" y2="365.80" stroke="#3a3a3a" stroke-width="0.8" />
<line x1="261.40" y1="361.20" x2="261.40" y2="370.00" stroke="#3a3a3a" stroke-width="0.8" />
<circle cx="223.45" cy="361.60" r="0.85" fill="#6aaed2" stroke="none" stroke-width="0"/>
<circle cx="223.45" cy="363.90" r="0.85" fill="#6aaed2" stroke="none" stroke-width="0"/>
<circle cx="223.45" cy="365.00" r="0.85" fill="#6aaed2" stroke="none" stroke-width="0"/>
<circle cx="261.40" cy="357.70" r="0.85" fill="#b8405e" stroke="none" stroke-width="0"/>
<circle cx="261.40" cy="366.90" r="0.85" fill="#b8405e" stroke="none" stroke-width="0"/>
<circle cx="261.40" cy="372.20" r="0.85" fill="#b8405e" stroke="none" stroke-width="0"/>
<line x1="204.60" y1="355.40" x2="204.60" y2="410.30" stroke="#222" stroke-width="1.0" />
<line x1="204.60" y1="409.90" x2="280.30" y2="409.90" stroke="#222" stroke-width="1.0" />
<line x1="201.80" y1="409.60" x2="204.60" y2="409.60" stroke="#222" stroke-width="0.8" />
<text transform="translate(199.00 411.81) scale(0.8929 1)" font-size="7.06" text-anchor="end" fill="#1a1a1a" stroke="#1a1a1a" stroke-width="0.11" >0.0</text>
<line x1="201.80" y1="398.80" x2="204.60" y2="398.80" stroke="#222" stroke-width="0.8" />
<text transform="translate(199.00 401.00) scale(0.8929 1)" font-size="7.06" text-anchor="end" fill="#1a1a1a" stroke="#1a1a1a" stroke-width="0.11" >0.5</text>
<line x1="201.80" y1="387.70" x2="204.60" y2="387.70" stroke="#222" stroke-width="0.8" />
<text transform="translate(199.00 389.90) scale(0.8929 1)" font-size="7.06" text-anchor="end" fill="#1a1a1a" stroke="#1a1a1a" stroke-width="0.11" >1.0</text>
<line x1="201.80" y1="376.60" x2="204.60" y2="376.60" stroke="#222" stroke-width="0.8" />
<text transform="translate(199.00 378.81) scale(0.8929 1)" font-size="7.06" text-anchor="end" fill="#1a1a1a" stroke="#1a1a1a" stroke-width="0.11" >1.5</text>
<line x1="201.80" y1="365.30" x2="204.60" y2="365.30" stroke="#222" stroke-width="0.8" />
<text transform="translate(199.00 367.50) scale(0.8929 1)" font-size="7.06" text-anchor="end" fill="#1a1a1a" stroke="#1a1a1a" stroke-width="0.11" >2.0</text>
<line x1="223.45" y1="409.90" x2="223.45" y2="412.40" stroke="#222" stroke-width="0.8" />
<line x1="261.40" y1="409.90" x2="261.40" y2="412.40" stroke="#222" stroke-width="0.8" />
<text transform="translate(223.45 421.44) scale(0.8929 1)" font-size="6.83" text-anchor="middle" fill="#1a1a1a" stroke="#1a1a1a" stroke-width="0.11" >ctrl</text>
<text transform="translate(261.40 421.44) scale(0.8929 1)" font-size="6.83" text-anchor="middle" fill="#1a1a1a" stroke="#1a1a1a" stroke-width="0.11" >diHDPA</text>
<text transform="translate(351.50 350.09) scale(0.8929 1)" font-size="8.62" text-anchor="middle" fill="#1a1a1a" stroke="#1a1a1a" stroke-width="0.1" >Fumarate</text>
<text transform="translate(313.90 354.13) scale(0.8929 1)" font-size="6.50" text-anchor="start" fill="#1a1a1a" stroke="#1a1a1a" stroke-width="0.11" >1e6</text>
<rect x="317.00" y="375.80" width="30.70" height="33.70" fill="#c3e4f3" />
<rect x="355.10" y="386.20" width="30.40" height="23.30" fill="#ebb9c5" />
<line x1="332.35" y1="366.50" x2="332.35" y2="388.50" stroke="#3a3a3a" stroke-width="0.8" />
<line x1="370.30" y1="383.40" x2="370.30" y2="389.60" stroke="#3a3a3a" stroke-width="0.8" />
<circle cx="332.35" cy="357.30" r="0.85" fill="#6aaed2" stroke="none" stroke-width="0"/>
<circle cx="332.35" cy="387.30" r="0.85" fill="#6aaed2" stroke="none" stroke-width="0"/>
<circle cx="332.35" cy="380.00" r="0.85" fill="#6aaed2" stroke="none" stroke-width="0"/>
<circle cx="370.30" cy="380.40" r="0.85" fill="#b8405e" stroke="none" stroke-width="0"/>
<circle cx="370.30" cy="385.00" r="0.85" fill="#b8405e" stroke="none" stroke-width="0"/>
<circle cx="370.30" cy="388.00" r="0.85" fill="#b8405e" stroke="none" stroke-width="0"/>
<line x1="313.50" y1="355.00" x2="313.50" y2="409.90" stroke="#222" stroke-width="1.0" />
<line x1="313.50" y1="409.50" x2="388.50" y2="409.50" stroke="#222" stroke-width="1.0" />
<line x1="310.70" y1="409.20" x2="313.50" y2="409.20" stroke="#222" stroke-width="0.8" />
<text transform="translate(308.50 411.40) scale(0.8929 1)" font-size="7.06" text-anchor="end" fill="#1a1a1a" stroke="#1a1a1a" stroke-width="0.11" >0.00</text>
<line x1="310.70" y1="397.70" x2="313.50" y2="397.70" stroke="#222" stroke-width="0.8" />
<text transform="translate(308.50 399.90) scale(0.8929 1)" font-size="7.06" text-anchor="end" fill="#1a1a1a" stroke="#1a1a1a" stroke-width="0.11" >0.25</text>
<line x1="310.70" y1="385.50" x2="313.50" y2="385.50" stroke="#222" stroke-width="0.8" />
<text transform="translate(308.50 387.70) scale(0.8929 1)" font-size="7.06" text-anchor="end" fill="#1a1a1a" stroke="#1a1a1a" stroke-width="0.11" >0.50</text>
<line x1="310.70" y1="373.50" x2="313.50" y2="373.50" stroke="#222" stroke-width="0.8" />
<text transform="translate(308.50 375.70) scale(0.8929 1)" font-size="7.06" text-anchor="end" fill="#1a1a1a" stroke="#1a1a1a" stroke-width="0.11" >0.75</text>
<line x1="310.70" y1="361.50" x2="313.50" y2="361.50" stroke="#222" stroke-width="0.8" />
<text transform="translate(308.50 363.70) scale(0.8929 1)" font-size="7.06" text-anchor="end" fill="#1a1a1a" stroke="#1a1a1a" stroke-width="0.11" >1.00</text>
<line x1="332.35" y1="409.50" x2="332.35" y2="412.00" stroke="#222" stroke-width="0.8" />
<line x1="370.30" y1="409.50" x2="370.30" y2="412.00" stroke="#222" stroke-width="0.8" />
<text transform="translate(332.35 421.03) scale(0.8929 1)" font-size="6.83" text-anchor="middle" fill="#1a1a1a" stroke="#1a1a1a" stroke-width="0.11" >ctrl</text>
<text transform="translate(370.30 421.03) scale(0.8929 1)" font-size="6.83" text-anchor="middle" fill="#1a1a1a" stroke="#1a1a1a" stroke-width="0.11" >diHDPA</text>
<text transform="translate(460.70 350.09) scale(0.8929 1)" font-size="8.62" text-anchor="middle" fill="#1a1a1a" stroke="#1a1a1a" stroke-width="0.1" >Malate</text>
<text transform="translate(423.50 354.13) scale(0.8929 1)" font-size="6.50" text-anchor="start" fill="#1a1a1a" stroke="#1a1a1a" stroke-width="0.11" >1e6</text>
<rect x="426.20" y="377.40" width="30.70" height="32.10" fill="#c3e4f3" />
<rect x="464.30" y="397.20" width="30.40" height="12.30" fill="#ebb9c5" />
<line x1="441.55" y1="366.50" x2="441.55" y2="388.50" stroke="#3a3a3a" stroke-width="0.8" />
<line x1="479.50" y1="396.00" x2="479.50" y2="397.00" stroke="#3a3a3a" stroke-width="0.8" />
<circle cx="441.55" cy="357.30" r="0.85" fill="#6aaed2" stroke="none" stroke-width="0"/>
<circle cx="441.55" cy="392.60" r="0.85" fill="#6aaed2" stroke="none" stroke-width="0"/>
<circle cx="441.55" cy="381.50" r="0.85" fill="#6aaed2" stroke="none" stroke-width="0"/>
<circle cx="479.50" cy="396.50" r="0.85" fill="#b8405e" stroke="none" stroke-width="0"/>
<line x1="422.70" y1="355.00" x2="422.70" y2="409.90" stroke="#222" stroke-width="1.0" />
<line x1="422.70" y1="409.50" x2="498.40" y2="409.50" stroke="#222" stroke-width="1.0" />
<line x1="419.90" y1="409.20" x2="422.70" y2="409.20" stroke="#222" stroke-width="0.8" />
<text transform="translate(417.20 411.40) scale(0.8929 1)" font-size="7.06" text-anchor="end" fill="#1a1a1a" stroke="#1a1a1a" stroke-width="0.11" >0</text>
<line x1="419.90" y1="390.30" x2="422.70" y2="390.30" stroke="#222" stroke-width="0.8" />
<text transform="translate(417.20 392.50) scale(0.8929 1)" font-size="7.06" text-anchor="end" fill="#1a1a1a" stroke="#1a1a1a" stroke-width="0.11" >2</text>
<line x1="419.90" y1="370.70" x2="422.70" y2="370.70" stroke="#222" stroke-width="0.8" />
<text transform="translate(417.20 372.90) scale(0.8929 1)" font-size="7.06" text-anchor="end" fill="#1a1a1a" stroke="#1a1a1a" stroke-width="0.11" >4</text>
<line x1="441.55" y1="409.50" x2="441.55" y2="412.00" stroke="#222" stroke-width="0.8" />
<line x1="479.50" y1="409.50" x2="479.50" y2="412.00" stroke="#222" stroke-width="0.8" />
<text transform="translate(441.55 421.03) scale(0.8929 1)" font-size="6.83" text-anchor="middle" fill="#1a1a1a" stroke="#1a1a1a" stroke-width="0.11" >ctrl</text>
<text transform="translate(479.50 421.03) scale(0.8929 1)" font-size="6.83" text-anchor="middle" fill="#1a1a1a" stroke="#1a1a1a" stroke-width="0.11" >diHDPA</text>
<text transform="translate(242.40 438.09) scale(0.8929 1)" font-size="8.62" text-anchor="middle" fill="#1a1a1a" stroke="#1a1a1a" stroke-width="0.1" >D-Glucose</text>
<text transform="translate(206.60 443.33) scale(0.8929 1)" font-size="6.50" text-anchor="start" fill="#1a1a1a" stroke="#1a1a1a" stroke-width="0.11" >1e6</text>
<rect x="208.10" y="485.50" width="30.70" height="12.70" fill="#c3e4f3" />
<rect x="246.20" y="477.60" width="30.40" height="20.60" fill="#ebb9c5" />
<line x1="223.45" y1="480.40" x2="223.45" y2="490.80" stroke="#3a3a3a" stroke-width="0.8" />
<line x1="261.40" y1="461.90" x2="261.40" y2="493.80" stroke="#3a3a3a" stroke-width="0.8" />
<circle cx="223.45" cy="474.60" r="0.85" fill="#6aaed2" stroke="none" stroke-width="0"/>
<circle cx="223.45" cy="488.00" r="0.85" fill="#6aaed2" stroke="none" stroke-width="0"/>
<circle cx="223.45" cy="490.00" r="0.85" fill="#6aaed2" stroke="none" stroke-width="0"/>
<circle cx="261.40" cy="446.20" r="0.85" fill="#b8405e" stroke="none" stroke-width="0"/>
<circle cx="261.40" cy="493.10" r="0.85" fill="#b8405e" stroke="none" stroke-width="0"/>
<line x1="204.60" y1="443.50" x2="204.60" y2="498.60" stroke="#222" stroke-width="1.0" />
<line x1="204.60" y1="498.20" x2="280.30" y2="498.20" stroke="#222" stroke-width="1.0" />
<line x1="201.80" y1="498.40" x2="204.60" y2="498.40" stroke="#222" stroke-width="0.8" />
<text transform="translate(199.00 500.60) scale(0.8929 1)" font-size="7.06" text-anchor="end" fill="#1a1a1a" stroke="#1a1a1a" stroke-width="0.11" >0.0</text>
<line x1="201.80" y1="483.40" x2="204.60" y2="483.40" stroke="#222" stroke-width="0.8" />
<text transform="translate(199.00 485.60) scale(0.8929 1)" font-size="7.06" text-anchor="end" fill="#1a1a1a" stroke="#1a1a1a" stroke-width="0.11" >0.5</text>
<line x1="201.80" y1="468.40" x2="204.60" y2="468.40" stroke="#222" stroke-width="0.8" />
<text transform="translate(199.00 470.60) scale(0.8929 1)" font-size="7.06" text-anchor="end" fill="#1a1a1a" stroke="#1a1a1a" stroke-width="0.11" >1.0</text>
<line x1="201.80" y1="453.80" x2="204.60" y2="453.80" stroke="#222" stroke-width="0.8" />
<text transform="translate(199.00 456.00) scale(0.8929 1)" font-size="7.06" text-anchor="end" fill="#1a1a1a" stroke="#1a1a1a" stroke-width="0.11" >1.5</text>
<line x1="223.45" y1="498.20" x2="223.45" y2="500.70" stroke="#222" stroke-width="0.8" />
<line x1="261.40" y1="498.20" x2="261.40" y2="500.70" stroke="#222" stroke-width="0.8" />
<text transform="translate(223.45 509.03) scale(0.8929 1)" font-size="6.83" text-anchor="middle" fill="#1a1a1a" stroke="#1a1a1a" stroke-width="0.11" >ctrl</text>
<text transform="translate(261.40 509.03) scale(0.8929 1)" font-size="6.83" text-anchor="middle" fill="#1a1a1a" stroke="#1a1a1a" stroke-width="0.11" >diHDPA</text>
<text transform="translate(351.50 438.09) scale(0.8929 1)" font-size="8.62" text-anchor="middle" fill="#1a1a1a" stroke="#1a1a1a" stroke-width="0.1" >Lactate</text>
<text transform="translate(313.90 443.33) scale(0.8929 1)" font-size="6.50" text-anchor="start" fill="#1a1a1a" stroke="#1a1a1a" stroke-width="0.11" >1e6</text>
<rect x="317.00" y="468.20" width="30.70" height="30.00" fill="#c3e4f3" />
<rect x="355.10" y="478.50" width="30.40" height="19.70" fill="#ebb9c5" />
<line x1="332.35" y1="457.30" x2="332.35" y2="481.50" stroke="#3a3a3a" stroke-width="0.8" />
<line x1="370.30" y1="474.60" x2="370.30" y2="481.50" stroke="#3a3a3a" stroke-width="0.8" />
<circle cx="332.35" cy="445.80" r="0.85" fill="#6aaed2" stroke="none" stroke-width="0"/>
<circle cx="332.35" cy="480.40" r="0.85" fill="#6aaed2" stroke="none" stroke-width="0"/>
<circle cx="332.35" cy="470.00" r="0.85" fill="#6aaed2" stroke="none" stroke-width="0"/>
<circle cx="370.30" cy="472.30" r="0.85" fill="#b8405e" stroke="none" stroke-width="0"/>
<circle cx="370.30" cy="477.00" r="0.85" fill="#b8405e" stroke="none" stroke-width="0"/>
<circle cx="370.30" cy="480.00" r="0.85" fill="#b8405e" stroke="none" stroke-width="0"/>
<line x1="313.50" y1="443.50" x2="313.50" y2="498.60" stroke="#222" stroke-width="1.0" />
<line x1="313.50" y1="498.20" x2="388.50" y2="498.20" stroke="#222" stroke-width="1.0" />
<line x1="310.70" y1="498.40" x2="313.50" y2="498.40" stroke="#222" stroke-width="0.8" />
<text transform="translate(308.50 500.60) scale(0.8929 1)" font-size="7.06" text-anchor="end" fill="#1a1a1a" stroke="#1a1a1a" stroke-width="0.11" >0</text>
<line x1="310.70" y1="477.60" x2="313.50" y2="477.60" stroke="#222" stroke-width="0.8" />
<text transform="translate(308.50 479.81) scale(0.8929 1)" font-size="7.06" text-anchor="end" fill="#1a1a1a" stroke="#1a1a1a" stroke-width="0.11" >2</text>
<line x1="310.70" y1="456.20" x2="313.50" y2="456.20" stroke="#222" stroke-width="0.8" />
<text transform="translate(308.50 458.40) scale(0.8929 1)" font-size="7.06" text-anchor="end" fill="#1a1a1a" stroke="#1a1a1a" stroke-width="0.11" >4</text>
<line x1="332.35" y1="498.20" x2="332.35" y2="500.70" stroke="#222" stroke-width="0.8" />
<line x1="370.30" y1="498.20" x2="370.30" y2="500.70" stroke="#222" stroke-width="0.8" />
<text transform="translate(332.35 509.03) scale(0.8929 1)" font-size="6.83" text-anchor="middle" fill="#1a1a1a" stroke="#1a1a1a" stroke-width="0.11" >ctrl</text>
<text transform="translate(370.30 509.03) scale(0.8929 1)" font-size="6.83" text-anchor="middle" fill="#1a1a1a" stroke="#1a1a1a" stroke-width="0.11" >diHDPA</text>
<text transform="translate(430.45 470.95) scale(0.8929 1)" font-size="6.55" text-anchor="middle" fill="#1a1a1a" stroke="#1a1a1a" stroke-width="0.11" >Glutamine</text>
<text transform="translate(478.80 470.95) scale(0.8929 1)" font-size="6.55" text-anchor="middle" fill="#1a1a1a" stroke="#1a1a1a" stroke-width="0.11" >Glucose</text>
<text transform="translate(425.35 508.15) scale(0.8929 1)" font-size="6.55" text-anchor="middle" fill="#1a1a1a" stroke="#1a1a1a" stroke-width="0.11" >Glutamate</text>
<text transform="translate(478.60 510.25) scale(0.8929 1)" font-size="6.55" text-anchor="middle" fill="#1a1a1a" stroke="#1a1a1a" stroke-width="0.11" >Pyruvate</text>
<text transform="translate(453.60 538.85) scale(0.8929 1)" font-size="6.55" text-anchor="middle" fill="#1a1a1a" stroke="#1a1a1a" stroke-width="0.11" >Citrate</text>
<text transform="translate(396.60 538.75) scale(0.8929 1)" font-size="6.55" text-anchor="middle" fill="#1a1a1a" stroke="#1a1a1a" stroke-width="0.11" >2-Oxoglutarate</text>
<text transform="translate(363.70 563.15) scale(0.8929 1)" font-size="6.55" text-anchor="middle" fill="#1a1a1a" stroke="#1a1a1a" stroke-width="0.11" >Succinyl-CoA</text>
<text transform="translate(356.00 574.65) scale(0.8929 1)" font-size="6.55" text-anchor="middle" fill="#1a1a1a" stroke="#1a1a1a" stroke-width="0.11" >Glycine</text>
<text transform="translate(235.20 538.75) scale(0.8929 1)" font-size="6.55" text-anchor="middle" fill="#1a1a1a" stroke="#1a1a1a" stroke-width="0.11" >Malate</text>
<text transform="translate(275.70 538.75) scale(0.8929 1)" font-size="6.55" text-anchor="middle" fill="#1a1a1a" stroke="#1a1a1a" stroke-width="0.11" >Fumarate</text>
<text transform="translate(319.45 538.75) scale(0.8929 1)" font-size="6.55" text-anchor="middle" fill="#1a1a1a" stroke="#1a1a1a" stroke-width="0.11" >Succinate</text>
<text transform="translate(304.80 568.35) scale(0.8929 1)" font-size="6.55" text-anchor="middle" fill="#1a1a1a" stroke="#1a1a1a" stroke-width="0.11" >Heme</text>
<text transform="translate(454.00 565.45) scale(0.8929 1)" font-size="6.55" text-anchor="middle" fill="#1a1a1a" stroke="#1a1a1a" stroke-width="0.11" >Fatty acids</text>
<line x1="430.70" y1="476.90" x2="430.70" y2="492.50" stroke="#1e1e1e" stroke-width="1.05" />
<polygon points="430.70,495.50 428.40,490.70 433.00,490.70" fill="#1e1e1e"/>
<line x1="478.70" y1="476.90" x2="478.70" y2="492.50" stroke="#1e1e1e" stroke-width="1.05" />
<polygon points="478.70,495.50 476.40,490.70 481.00,490.70" fill="#1e1e1e"/>
<line x1="421.80" y1="511.40" x2="421.80" y2="526.80" stroke="#1e1e1e" stroke-width="1.05" />
<polygon points="421.80,529.80 419.50,525.00 424.10,525.00" fill="#1e1e1e"/>
<polyline points="479.3,515.5 479.3,536.9 469,536.9" fill="none" stroke="#1e1e1e" stroke-width="1.05"/>
<polygon points="466.60,536.90 471.40,534.60 471.40,539.20" fill="#1e1e1e"/>
<line x1="440.20" y1="536.90" x2="430.60" y2="536.90" stroke="#1e1e1e" stroke-width="1.05" />
<polygon points="427.60,536.90 432.40,534.60 432.40,539.20" fill="#1e1e1e"/>
<line x1="453.50" y1="556.50" x2="453.50" y2="546.80" stroke="#1e1e1e" stroke-width="1.05" />
<polygon points="453.50,543.80 451.20,548.60 455.80,548.60" fill="#1e1e1e"/>
<line x1="382.60" y1="541.90" x2="382.60" y2="549.80" stroke="#1e1e1e" stroke-width="1.05" />
<polygon points="382.60,552.80 380.30,548.00 384.90,548.00" fill="#1e1e1e"/>
<polyline points="351.2,557.8 351.2,536.8 342,536.8" fill="none" stroke="#1e1e1e" stroke-width="1.05"/>
<polygon points="338.80,536.80 343.60,534.50 343.60,539.10" fill="#1e1e1e"/>
<line x1="303.70" y1="536.80" x2="294.30" y2="536.80" stroke="#1e1e1e" stroke-width="1.05" />
<polygon points="291.30,536.80 296.10,534.50 296.10,539.10" fill="#1e1e1e"/>
<line x1="260.60" y1="536.80" x2="251.20" y2="536.80" stroke="#1e1e1e" stroke-width="1.05" />
<polygon points="248.20,536.80 253.00,534.50 253.00,539.10" fill="#1e1e1e"/>
<polyline points="344.6,560.4 329.8,560.4 329.8,572.5 344.6,572.5" fill="none" stroke="#1e1e1e" stroke-width="1.05"/>
<line x1="329.80" y1="566.40" x2="319.90" y2="566.40" stroke="#1e1e1e" stroke-width="1.05" />
<polygon points="316.90,566.40 321.70,564.10 321.70,568.70" fill="#1e1e1e"/>
</g>
<rect x="0" y="0" width="520" height="1.0" fill="#5c5c5c"/><rect x="0" y="0" width="1.15" height="582" fill="#555"/><rect x="518.7" y="0" width="1.3" height="582" fill="#3c3c3c"/><rect x="0" y="580.5" width="520" height="1.5" fill="#353535"/>
</svg>
</body></html>
